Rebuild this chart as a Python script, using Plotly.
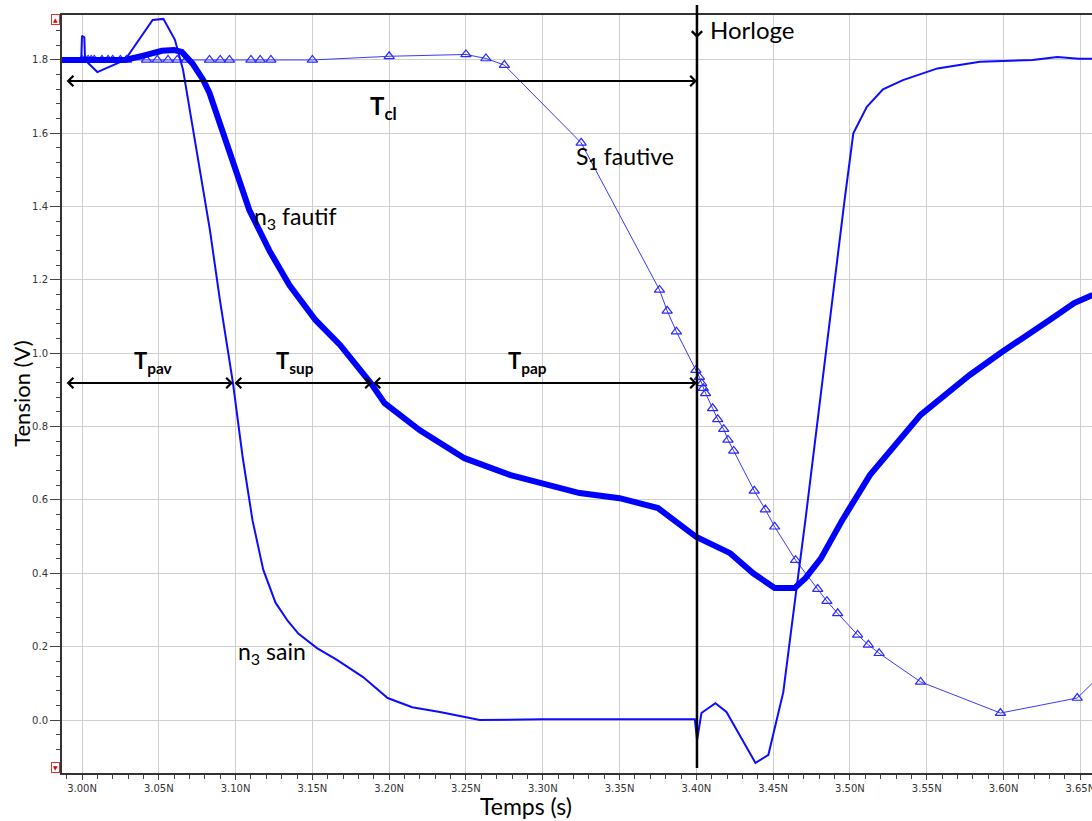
import plotly.graph_objects as go

# ---------------- data ----------------
# n3 fautif (thick curve)
fautif_t = [2.987, 3.028, 3.040, 3.052, 3.060, 3.065, 3.072, 3.079, 3.083, 3.091, 3.100,
            3.109, 3.122, 3.135, 3.152, 3.168, 3.188, 3.197, 3.220, 3.249, 3.279, 3.324,
            3.350, 3.375, 3.400, 3.422, 3.437, 3.451, 3.464, 3.471, 3.481, 3.495, 3.513,
            3.546, 3.578, 3.598, 3.630, 3.646, 3.658]
fautif_v = [1.800, 1.800, 1.812, 1.825, 1.827, 1.822, 1.790, 1.745, 1.710, 1.609, 1.500,
            1.390, 1.280, 1.186, 1.091, 1.023, 0.919, 0.864, 0.790, 0.714, 0.668, 0.619,
            0.605, 0.578, 0.499, 0.455, 0.400, 0.360, 0.360, 0.387, 0.440, 0.545, 0.668,
            0.832, 0.941, 1.001, 1.091, 1.137, 1.159]

# n3 sain (thin curve)
sain_t = [2.987, 2.9995, 3.000, 3.0015, 3.002, 3.010, 3.028, 3.046, 3.053, 3.0605, 3.0658,
          3.0723, 3.0768, 3.0833, 3.0898, 3.0983, 3.1045, 3.111, 3.118, 3.126, 3.134, 3.141,
          3.153, 3.166, 3.183, 3.199, 3.215, 3.233, 3.259, 3.300, 3.399, 3.4005, 3.4033,
          3.4124, 3.4196, 3.4385, 3.4469, 3.4566, 3.4645, 3.4710, 3.4965, 3.5022, 3.511,
          3.5215, 3.5345, 3.557, 3.5846, 3.619, 3.635, 3.649, 3.658]
sain_v = [1.800, 1.800, 1.866, 1.862, 1.800, 1.767, 1.800, 1.909, 1.912, 1.855, 1.773,
          1.609, 1.500, 1.336, 1.145, 0.919, 0.720, 0.545, 0.410, 0.320, 0.270, 0.235,
          0.196, 0.164, 0.117, 0.060, 0.035, 0.022, 0.000, 0.002, 0.002, -0.055, 0.019,
          0.046, 0.022, -0.117, -0.095, 0.076, 0.335, 0.545, 1.418, 1.600, 1.672,
          1.720, 1.745, 1.777, 1.795, 1.800, 1.808, 1.803, 1.803]

# S1 fautive (thin curve with triangles)
s1_t = [3.000, 3.002, 3.004, 3.006, 3.008, 3.013, 3.017, 3.020, 3.025, 3.029, 3.042,
        3.049, 3.056, 3.062, 3.068, 3.083, 3.090, 3.096, 3.110, 3.116, 3.123, 3.150,
        3.200, 3.250, 3.263, 3.275, 3.325, 3.376, 3.381, 3.387, 3.3997, 3.402, 3.4035,
        3.4045, 3.406, 3.4106, 3.4139, 3.4178, 3.4206, 3.4243, 3.4377, 3.4449, 3.451,
        3.4646, 3.479, 3.485, 3.492, 3.505, 3.512, 3.519, 3.546, 3.598, 3.648, 3.665]
s1_v = [1.800, 1.800, 1.800, 1.800, 1.800, 1.800, 1.800, 1.800, 1.800, 1.800, 1.800,
        1.800, 1.800, 1.800, 1.800, 1.800, 1.800, 1.800, 1.800, 1.800, 1.800, 1.800,
        1.810, 1.815, 1.804, 1.786, 1.574, 1.173, 1.116, 1.059, 0.954, 0.935, 0.918,
        0.905, 0.891, 0.850, 0.820, 0.793, 0.764, 0.734, 0.625, 0.574, 0.527,
        0.436, 0.357, 0.324, 0.291, 0.232, 0.205, 0.182, 0.104, 0.019, 0.060, 0.130]

x_tickvals = [3.00, 3.05, 3.10, 3.15, 3.20, 3.25, 3.30, 3.35, 3.40, 3.45, 3.50, 3.55, 3.60, 3.65]
x_ticktext = ["3.00N", "3.05N", "3.10N", "3.15N", "3.20N", "3.25N", "3.30N", "3.35N",
              "3.40N", "3.45N", "3.50N", "3.55N", "3.60N", "3.65N"]
y_tickvals = [0.0, 0.2, 0.4, 0.6, 0.8, 1.0, 1.2, 1.4, 1.6, 1.8]
y_ticktext = ["0.0", "0.2", "0.4", "0.6", "0.8", "1.0", "1.2", "1.4", "1.6", "1.8"]

# time markers (s) and arrow levels (V)
t_start = 2.989
t_pav_end = 3.0983
t_sup_end = 3.1888
t_clock = 3.4004
v_tcl = 1.7426
v_tp = 0.919

# ---------------- figure ----------------
fig = go.Figure()

fig.add_trace(go.Scatter(x=s1_t, y=s1_v, mode="lines+markers",
                         line=dict(color="#3a3aff", width=1),
                         marker=dict(symbol="triangle-up-open", size=9,
                                     color="#2a2aff", line=dict(width=1.2))))
fig.add_trace(go.Scatter(x=sain_t, y=sain_v, mode="lines",
                         line=dict(color="#0c0cff", width=2)))
fig.add_trace(go.Scatter(x=fautif_t, y=fautif_v, mode="lines",
                         line=dict(color="#0000ff", width=6)))

TXT = "Lato"
ann = []


def darrow(x0, x1, y):
    ann.append(dict(x=x1, y=y, ax=x0, ay=y, xref="x", yref="y", axref="x", ayref="y",
                    text="", showarrow=True, arrowside="end+start", arrowhead=4,
                    arrowsize=1.0, arrowwidth=2, arrowcolor="black"))


darrow(t_start, t_clock, v_tcl)
darrow(t_start, t_pav_end, v_tp)
darrow(t_pav_end, t_sup_end, v_tp)
darrow(t_sup_end, t_clock, v_tp)

labels = [
    ("<b>T<sub>cl</sub></b>", 3.1960, 1.67, 24),
    ("<b>T<sub>pav</sub></b>", 3.0465, 0.975, 22),
    ("<b>T<sub>sup</sub></b>", 3.139, 0.975, 22),
    ("<b>T<sub>pap</sub></b>", 3.290, 0.975, 22),
    ("S<b><sub>1</sub></b> fautive", 3.3535, 1.535, 23),
    ("n<sub>3</sub> fautif", 3.1390, 1.37, 23),
    ("n<sub>3</sub> sain", 3.1235, 0.185, 23),
]
for txt, x, y, s in labels:
    ann.append(dict(x=x, y=y, xref="x", yref="y", text=txt, showarrow=False,
                    font=dict(family=TXT, size=s, color="black"), xanchor="center",
                    yanchor="middle"))

# Horloge
ann.append(dict(x=t_clock, y=0.9697, xref="x", yref="paper", ax=0, ay=-33,
                text="", showarrow=True, arrowhead=4, arrowsize=1.0, arrowwidth=2,
                arrowcolor="black"))
ann.append(dict(x=3.4075, y=0.981, xref="x", yref="paper", text="Horloge", showarrow=False,
                font=dict(family=TXT, size=24, color="black"), xanchor="left",
                yanchor="middle"))

# axis titles
ann.append(dict(x=-0.040, y=0.50, xref="paper", yref="paper", text="Tension (V)",
                textangle=-90, showarrow=False, font=dict(family=TXT, size=22, color="black"),
                xanchor="center", yanchor="middle"))
ann.append(dict(x=0.4505, y=-0.043, xref="paper", yref="paper", text="Temps (s)",
                showarrow=False, font=dict(family=TXT, size=23, color="black"),
                xanchor="center", yanchor="middle"))

# red scroll markers
for sym, yp in (("▲", 0.9935), ("▼", 0.0079)):
    ann.append(dict(x=-0.0063, y=yp, xref="paper", yref="paper", text=sym, showarrow=False,
                    font=dict(family="DejaVu Sans", size=6, color="#e00000"),
                    bordercolor="#e03030", borderwidth=1, borderpad=1, bgcolor="white",
                    xanchor="center", yanchor="middle"))

fig.update_layout(
    width=1092, height=821,
    margin=dict(l=62, r=0, t=15, b=48, autoexpand=False),
    paper_bgcolor="white", plot_bgcolor="white",
    showlegend=False,
    annotations=ann,
    shapes=[dict(type="line", xref="x", yref="paper", x0=t_clock, x1=t_clock,
                 y0=0.0066, y1=1.0132, line=dict(color="black", width=2.5))],
    xaxis=dict(range=[2.98698, 3.6576], tickmode="array", tickvals=x_tickvals,
               ticktext=x_ticktext, ticks="outside", ticklen=5, tickcolor="#444",
               tickwidth=1, showline=True, linecolor="#333", linewidth=2, mirror=True,
               showgrid=True, gridcolor="#cfcfcf", gridwidth=1, zeroline=False,
               automargin=False, ticklabeloverflow="allow",
               tickfont=dict(family="DejaVu Sans", size=10, color="#333"),
               minor=dict(ticks="outside", ticklen=4, dtick=0.01, tick0=3.0,
                          tickcolor="#444", showgrid=False)),
    yaxis=dict(range=[-0.1445, 1.9226], tickmode="array", tickvals=y_tickvals,
               ticktext=y_ticktext, ticks="outside", ticklen=10, tickcolor="#444",
               tickwidth=1, showline=True, linecolor="#333", linewidth=2, mirror=False,
               showgrid=True, gridcolor="#cfcfcf", gridwidth=1, zeroline=False,
               automargin=False,
               tickfont=dict(family="DejaVu Sans", size=10, color="#333"),
               minor=dict(ticks="outside", ticklen=4, dtick=0.04, tick0=0.0,
                          tickcolor="#444", showgrid=False)),
)

# remove the default 8 px page margin so the figure fills the window exactly
fig.write_html("out.html", config={"displayModeBar": False},
               post_script="document.body.style.margin='0';"
                           "document.body.style.overflow='hidden';")
